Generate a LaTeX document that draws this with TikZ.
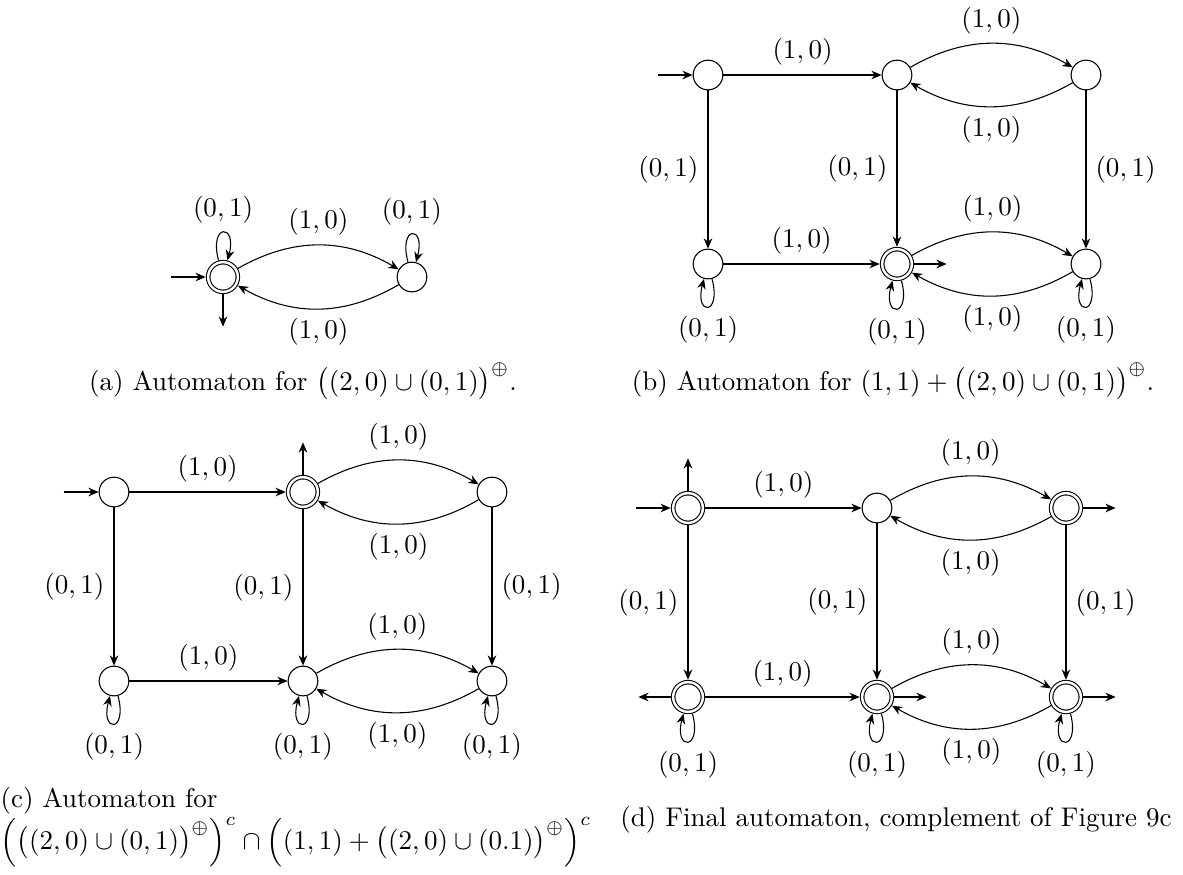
\documentclass[tikz,border=0pt]{standalone}
\usepackage{amsmath,amssymb}
\usepackage{tikz}
\usetikzlibrary{arrows.meta,positioning}

\begin{document}
\begin{tikzpicture}[
  x=0.3704pt, y=-0.3704pt,
  node distance=70pt, on grid,
  st/.style={circle, draw, minimum size=11pt, inner sep=0pt},
  acc/.style={st, double, double distance=0.9pt, outer sep=0.9pt},
  arr/.style={-{Stealth[length=3.8pt,width=3.2pt]}},
  fin/.style={arr, semithick},
  captxt/.style={inner sep=0pt, font=\normalsize}
]
\useasboundingbox (0,0) rectangle (1183,874);

% (a)
\node[acc] (a0) at (223,277) {};
\node[st, right=of a0] (a1) {};
\coordinate[left=13pt of a0.west] (a0in);
\coordinate[below=12pt of a0.south] (a0out);
\draw[arr] (a0in) -- (a0);
\draw[arr] (a0) -- (a0out);
\draw[arr] (a0) to[loop above] node[above] {$(0,1)$} (a0);
\draw[arr] (a1) to[loop above] node[above] {$(0,1)$} (a1);
\draw[arr] (a0) to[bend left=30] node[above] {$(1,0)$} (a1);
\draw[arr] (a1) to[bend left=30] node[below] {$(1,0)$} (a0);
\node[captxt] (capa) at (303,381) {(a) Automaton for $\big((2,0)\cup(0,1)\big)^{\oplus}$.};

% (b)
\node[st] (b0) at (708,75) {};
\node[st, right=of b0] (b1) {};
\node[st, right=of b1] (b2) {};
\node[st, below=of b0] (b3) {};
\node[acc, below=of b1] (b4) {};
\node[st, below=of b2] (b5) {};
\coordinate[left=13pt of b0.west] (b0in);
\coordinate[right=12pt of b4.east] (b4out);
\draw[arr] (b0in) -- (b0);
\draw[fin] (b4) -- (b4out);
\node[captxt] (capb) at (893,381) {(b) Automaton for $(1,1)+\big((2,0)\cup(0,1)\big)^{\oplus}$.};

% (c)
\node[st] (c0) at (114,492) {};
\node[acc, right=of c0] (c1) {};
\node[st, right=of c1] (c2) {};
\node[st, below=of c0] (c3) {};
\node[st, below=of c1] (c4) {};
\node[st, below=of c2] (c5) {};
\coordinate[left=13pt of c0.west] (c0in);
\coordinate[above=12pt of c1.north] (c1out);
\draw[arr] (c0in) -- (c0);
\draw[arr] (c1) -- (c1out);
\node[captxt, align=left, anchor=north west] (capc) at (0,787) {(c) Automaton for\\
  $\Big(\big((2,0)\cup(0,1)\big)^{\oplus}\Big)^{c}\cap\Big((1,1)+\big((2,0)\cup(0.1)\big)^{\oplus}\Big)^{c}$};

% (d)
\node[acc] (d0) at (688,508) {};
\node[st, right=of d0] (d1) {};
\node[acc, right=of d1] (d2) {};
\node[acc, below=of d0] (d3) {};
\node[acc, below=of d1] (d4) {};
\node[acc, below=of d2] (d5) {};
\coordinate[left=13pt of d0.west] (d0in);
\coordinate[above=12pt of d0.north] (d0out);
\coordinate[right=12pt of d2.east] (d2out);
\coordinate[left=12pt of d3.west] (d3out);
\coordinate[right=12pt of d4.east] (d4out);
\coordinate[right=12pt of d5.east] (d5out);
\draw[arr] (d0in) -- (d0);
\draw[arr] (d0) -- (d0out);
\draw[fin] (d2) -- (d2out);
\draw[fin] (d3) -- (d3out);
\draw[fin] (d4) -- (d4out);
\draw[fin] (d5) -- (d5out);
\node[captxt] (capd) at (896,820) {(d) Final automaton, complement of Figure 9c};

% edges shared by (b), (c), (d)
\foreach \p in {b,c,d} {
  \draw[arr] (\p0) -- node[above] {$(1,0)$} (\p1);
  \draw[arr] (\p1) to[bend left=30] node[above] {$(1,0)$} (\p2);
  \draw[arr] (\p2) to[bend left=30] node[below] {$(1,0)$} (\p1);
  \draw[arr] (\p0) -- node[left] {$(0,1)$} (\p3);
  \draw[arr] (\p1) -- node[left] {$(0,1)$} (\p4);
  \draw[arr] (\p2) -- node[right] {$(0,1)$} (\p5);
  \draw[arr] (\p3) -- node[above] {$(1,0)$} (\p4);
  \draw[arr] (\p4) to[bend left=30] node[above] {$(1,0)$} (\p5);
  \draw[arr] (\p5) to[bend left=30] node[below] {$(1,0)$} (\p4);
  \draw[arr] (\p3) to[loop below] node[below] {$(0,1)$} (\p3);
  \draw[arr] (\p4) to[loop below] node[below] {$(0,1)$} (\p4);
  \draw[arr] (\p5) to[loop below] node[below] {$(0,1)$} (\p5);
}
\end{tikzpicture}
\end{document}
